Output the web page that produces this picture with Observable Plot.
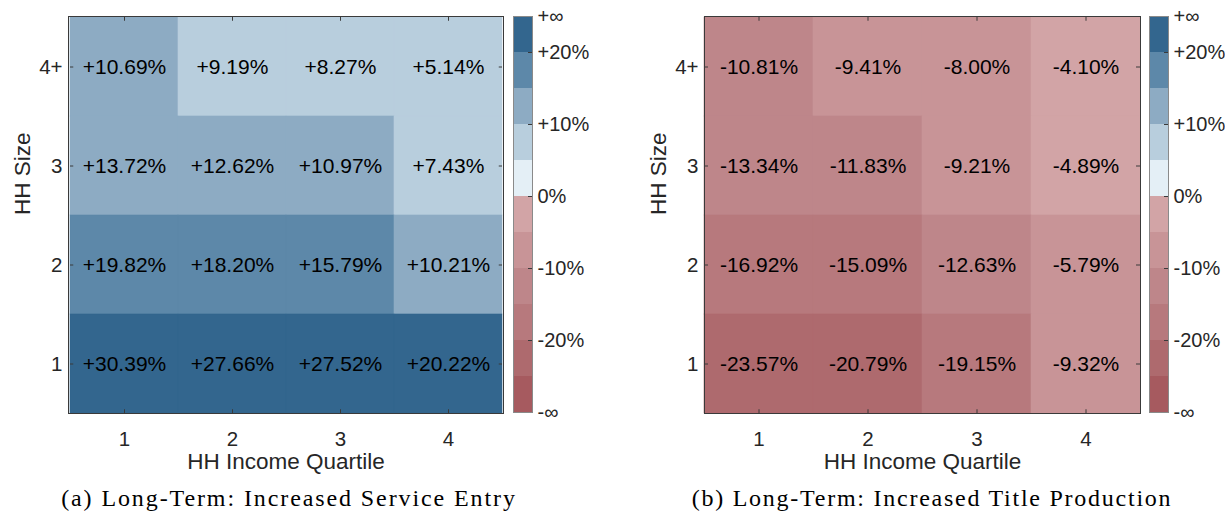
<!DOCTYPE html>
<html>
<head>
<meta charset="utf-8">
<script src="https://cdn.jsdelivr.net/npm/d3@7"></script>
<script src="https://cdn.jsdelivr.net/npm/@observablehq/plot@0.6"></script>
<style>
  html, body { margin: 0; padding: 0; background: #fff; }
  #root { position: relative; width: 1225px; height: 516px; background: #fff; overflow: hidden; }
  .panel { position: absolute; top: 0; }
  .panel svg { max-width: none !important; }
  .caption { position: absolute; top: 486px; font-family: "Liberation Serif", "Times New Roman", serif; font-size: 24px; line-height: 24px; color: #000; white-space: nowrap; letter-spacing: 1.9px; transform: translateX(-50%); }
</style>
</head>
<body>
<div id="root"></div>
<script>
// ---- data ----
const quartiles = ["1", "2", "3", "4"];
const hhSizes = ["4+", "3", "2", "1"];
// rows follow hhSizes, columns follow quartiles
const serviceEntry = [
  [10.69, 9.19, 8.27, 5.14],
  [13.72, 12.62, 10.97, 7.43],
  [19.82, 18.20, 15.79, 10.21],
  [30.39, 27.66, 27.52, 20.22]
];
const titleProduction = [
  [-10.81, -9.41, -8.00, -4.10],
  [-13.34, -11.83, -9.21, -4.89],
  [-16.92, -15.09, -12.63, -5.79],
  [-23.57, -20.79, -19.15, -9.32]
];
const colorThresholds = [-25, -20, -15, -10, -5, 0, 5, 10, 15, 20];
const colorRange = ["#a65a5f", "#ae6a6e", "#b7797d", "#be868a", "#c89497", "#d2a4a6",
                    "#e4eff6", "#b8cedd", "#8dabc3", "#5d88a9", "#33668e"];
const colorbarEdges = [-30, -25, -20, -15, -10, -5, 0, 5, 10, 15, 20, 25];
const colorbarTicks = [25, 20, 10, 0, -10, -20, -30];
const colorbarTickLabels = ["+\u221E", "+20%", "+10%", "0%", "-10%", "-20%", "-\u221E"];
const xLabel = "HH Income Quartile";
const yLabel = "HH Size";
const captions = ["(a) Long-Term: Increased Service Entry", "(b) Long-Term: Increased Title Production"];

const FONT = "'Liberation Sans', Arial, Helvetica, sans-serif";
const AXIS_COLOR = "#3a3a3a";
const colorScale = {type: "threshold", domain: colorThresholds, range: colorRange};

function fmt(v) { return (v > 0 ? "+" : "") + v.toFixed(2) + "%"; }

function heatmap(values, marginRight) {
  const data = hhSizes.flatMap((s, i) => quartiles.map((q, j) => ({size: s, quartile: q, value: values[i][j]})));
  const H = 480, mt = 16, mb = 67, W = 512, ml = 68;
  const bw = (W - ml - marginRight) / quartiles.length;
  const bh = (H - mt - mb) / hhSizes.length;
  const T = 4;
  const first = quartiles[0], last = quartiles[quartiles.length - 1];
  const top = hhSizes[0], bottom = hhSizes[hhSizes.length - 1];
  return Plot.plot({
    width: W, height: H,
    marginLeft: ml, marginRight, marginTop: mt, marginBottom: mb,
    style: {fontFamily: FONT, color: "#262626", background: "transparent", overflow: "visible"},
    x: {domain: quartiles, padding: 0, label: null},
    y: {domain: hhSizes, padding: 0, label: null},
    color: colorScale,
    marks: [
      Plot.cell(data, {x: "quartile", y: "size", fill: "value", stroke: "value", strokeWidth: 0.6}),
      Plot.text(data, {x: "quartile", y: "size", text: d => fmt(d.value), fontSize: 21, fill: "#000"}),
      Plot.frame({stroke: AXIS_COLOR, strokeWidth: 1}),
      Plot.tickX(quartiles, {x: d => d, y: () => bottom, insetTop: bh - T, stroke: AXIS_COLOR}),
      Plot.tickX(quartiles, {x: d => d, y: () => top, insetBottom: bh - T, stroke: AXIS_COLOR}),
      Plot.tickY(hhSizes, {y: d => d, x: () => first, insetRight: bw - T, stroke: AXIS_COLOR}),
      Plot.tickY(hhSizes, {y: d => d, x: () => last, insetLeft: bw - T, stroke: AXIS_COLOR}),
      Plot.axisX({anchor: "bottom", tickSize: 0, tickPadding: 18, fontSize: 20.5, label: null}),
      Plot.axisY({anchor: "left", tickSize: 0, tickPadding: 6, fontSize: 20.5, label: null}),
      Plot.text([xLabel], {frameAnchor: "bottom", dy: 55, fontSize: 22.5, fill: "#262626"}),
      Plot.text([yLabel], {frameAnchor: "left", dx: -46, rotate: -90, fontSize: 22.5, fill: "#262626"})
    ]
  });
}

function colorbar() {
  const bins = colorbarEdges.slice(0, -1).map((lo, i) => ({lo, hi: colorbarEdges[i + 1]}));
  return Plot.plot({
    width: 19 + 56, height: 480,
    marginLeft: 0, marginRight: 56, marginTop: 16, marginBottom: 68,
    style: {fontFamily: FONT, color: "#262626", background: "transparent", overflow: "visible"},
    x: {domain: [0, 1], axis: null},
    y: {domain: [colorbarEdges[0], colorbarEdges[colorbarEdges.length - 1]], label: null},
    color: colorScale,
    marks: [
      Plot.rect(bins, {x1: 0, x2: 1, y1: "lo", y2: "hi", fill: d => (d.lo + d.hi) / 2}),
      Plot.frame({stroke: "#8a8a8a", strokeWidth: 1}),
      Plot.tickY(colorbarTicks.slice(1, -1), {y: d => d, insetLeft: 15, stroke: AXIS_COLOR}),
      Plot.axisY({anchor: "right", ticks: colorbarTicks, tickSize: 0, tickPadding: 5, fontSize: 20, label: null,
        tickFormat: d => colorbarTickLabels[colorbarTicks.indexOf(d)]})
    ]
  });
}

const root = document.getElementById("root");
function place(el, left) {
  const wrap = document.createElement("div");
  wrap.className = "panel";
  wrap.style.left = left + "px";
  el.style.maxWidth = "none";
  wrap.appendChild(el);
  root.appendChild(wrap);
}
place(heatmap(serviceEntry, 9), 0);
place(colorbar(), 513);
place(heatmap(titleProduction, 8), 636);
place(colorbar(), 1149);

[[captions[0], 289, 1.9], [captions[1], 932, 1.75]].forEach(([t, cx, ls]) => {
  const d = document.createElement("div");
  d.className = "caption";
  d.style.left = cx + "px";
  d.style.letterSpacing = ls + "px";
  d.textContent = t;
  root.appendChild(d);
});
</script>
</body>
</html>
